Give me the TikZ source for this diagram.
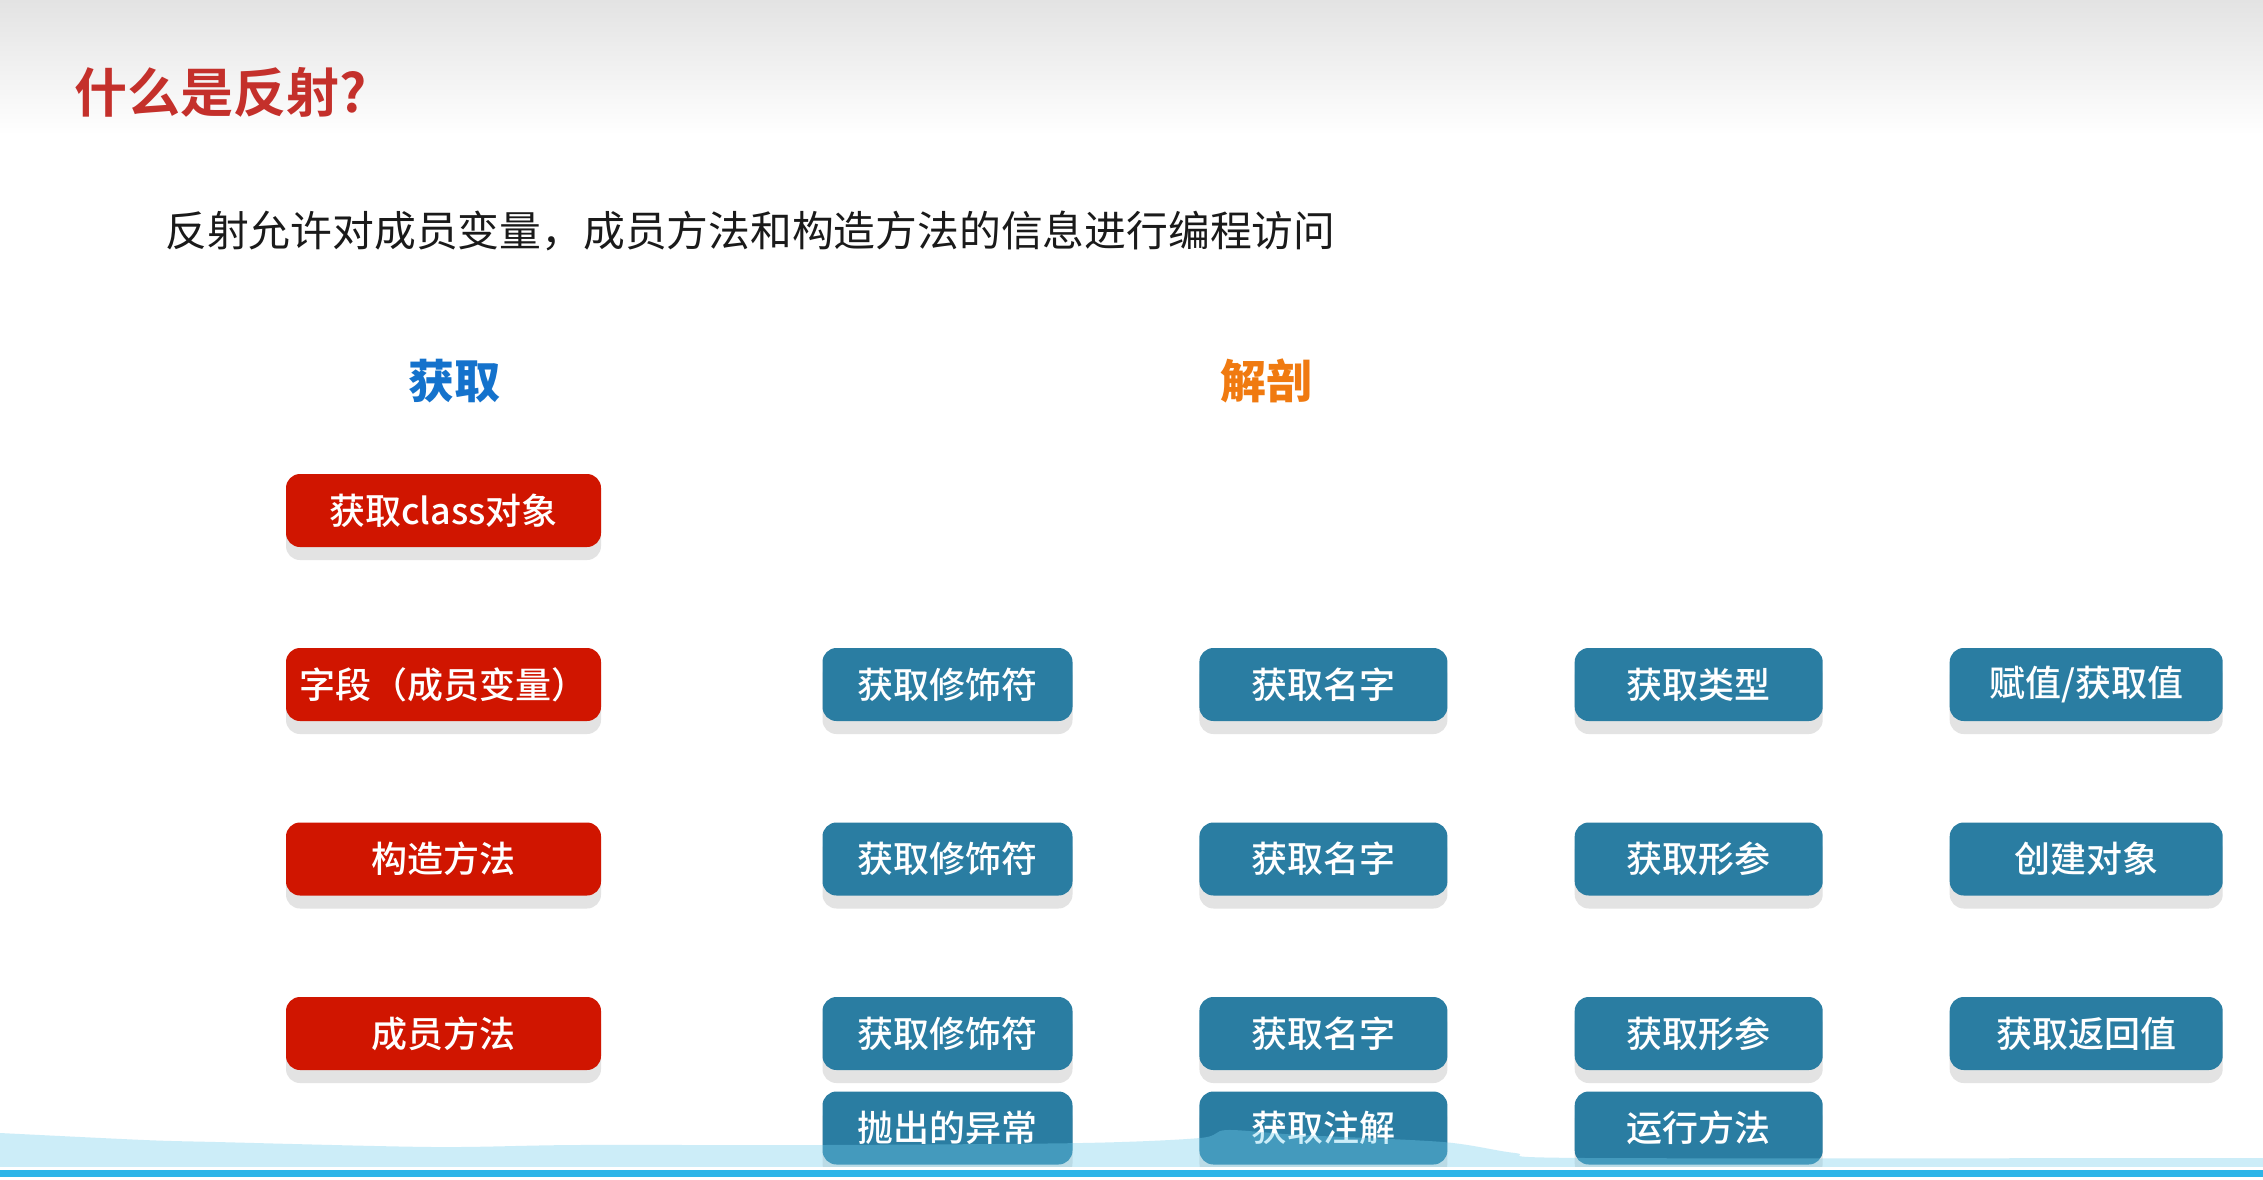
\documentclass[tikz,border=0pt]{standalone}
\usepackage{fontspec}
\newfontfamily\cjk{Noto Sans CJK SC}
\newfontfamily\cjkmed{Noto Sans CJK SC Medium}
\newfontfamily\cjkbold{Noto Sans CJK SC Bold}
\newfontfamily\cjkblack{Noto Sans CJK SC Black}
\usetikzlibrary{shadows}
\definecolor{boxred}{HTML}{D01500}
\definecolor{boxblue}{HTML}{2A7DA2}
\definecolor{shadowgray}{HTML}{E3E3E3}
\definecolor{titlered}{HTML}{C4302B}
\definecolor{headblue}{HTML}{1472CC}
\definecolor{headorange}{HTML}{F07A10}
\definecolor{wavecol}{HTML}{74CEED}
\definecolor{linecol}{HTML}{2CB5E8}
\definecolor{subtext}{HTML}{1A1A1A}
\tikzset{
  boxbase/.style={rounded corners=14pt, minimum height=73pt, inner sep=0pt,
    text=white, font=\cjkmed\fontsize{36}{40}\selectfont,
    drop shadow={shadow xshift=0pt, shadow yshift=-13pt, fill=shadowgray, opacity=1}},
  redbox/.style={boxbase, fill=boxred, minimum width=315pt},
  bluebox/.style={boxbase, fill=boxblue},
  colA/.style={bluebox, minimum width=250pt},
  colB/.style={bluebox, minimum width=248pt},
  colC/.style={bluebox, minimum width=248pt},
  colD/.style={bluebox, minimum width=273pt},
  heading/.style={inner sep=0pt, font=\cjkblack\fontsize{46}{50}\selectfont},
}
\begin{document}
\begin{tikzpicture}[x=1pt,y=1pt]
\useasboundingbox (0,0) rectangle (2263,-1179);
\fill[white] (0,0) rectangle (2263,-1179);
\shade[top color=black!11, bottom color=white] (0,0) rectangle (2263,-135);

% title and subtitle
\node[anchor=west, inner sep=0pt, text=titlered, font=\cjkbold\fontsize{53}{57}\selectfont] (title) at (74,-92) {什么是反射?};
\node[anchor=west, inner sep=0pt, text=subtext, font=\cjk\fontsize{41.8}{46}\selectfont] (sub) at (165,-231) {反射允许对成员变量，成员方法和构造方法的信息进行编程访问};

% headings
\node[heading, text=headblue] (get) at (454,-381) {获取};
\node[heading, text=headorange] (dissect) at (1266,-381) {解剖};

% left column
\node[redbox] (cls) at (443.5,-510.5) {获取class对象};
\node[redbox] (fld) at (443.5,-684.5) {字段（成员变量）};
\node[redbox] (ctor) at (443.5,-859) {构造方法};
\node[redbox] (mth) at (443.5,-1033.5) {成员方法};

% field row
\node[colA] (f1) at (947.5,-684.5) {获取修饰符};
\node[colB] (f2) at (1323.4,-684.5) {获取名字};
\node[colC] (f3) at (1698.7,-684.5) {获取类型};
\node[colD] (f4) at (2086.2,-684.5) {赋值/获取值};

% constructor row
\node[colA] (c1) at (947.5,-859) {获取修饰符};
\node[colB] (c2) at (1323.4,-859) {获取名字};
\node[colC] (c3) at (1698.7,-859) {获取形参};
\node[colD] (c4) at (2086.2,-859) {创建对象};

% method row
\node[colA] (m1) at (947.5,-1033.5) {获取修饰符};
\node[colB] (m2) at (1323.4,-1033.5) {获取名字};
\node[colC] (m3) at (1698.7,-1033.5) {获取形参};
\node[colD] (m4) at (2086.2,-1033.5) {获取返回值};
\node[colA] (m5) at (947.5,-1128) {抛出的异常};
\node[colB] (m6) at (1323.4,-1128) {获取注解};
\node[colC] (m7) at (1698.7,-1128) {运行方法};

% bottom wave and line
\fill[wavecol, opacity=0.36] plot[smooth, tension=0.5] coordinates {(0,-1133) (144,-1140) (216,-1142) (433,-1147) (577,-1145) (822,-1145) (1082,-1143) (1200,-1138) (1227,-1130) (1300,-1135) (1443,-1142) (1515,-1153) (1587,-1158) (2263,-1158)} -- (2263,-1167) -- (0,-1167) -- cycle;
\fill[white] (0,-1167) rectangle (2263,-1170);
\fill[linecol] (0,-1170) rectangle (2263,-1177);
\fill[white] (0,-1177) rectangle (2263,-1179);
\end{tikzpicture}
\end{document}
